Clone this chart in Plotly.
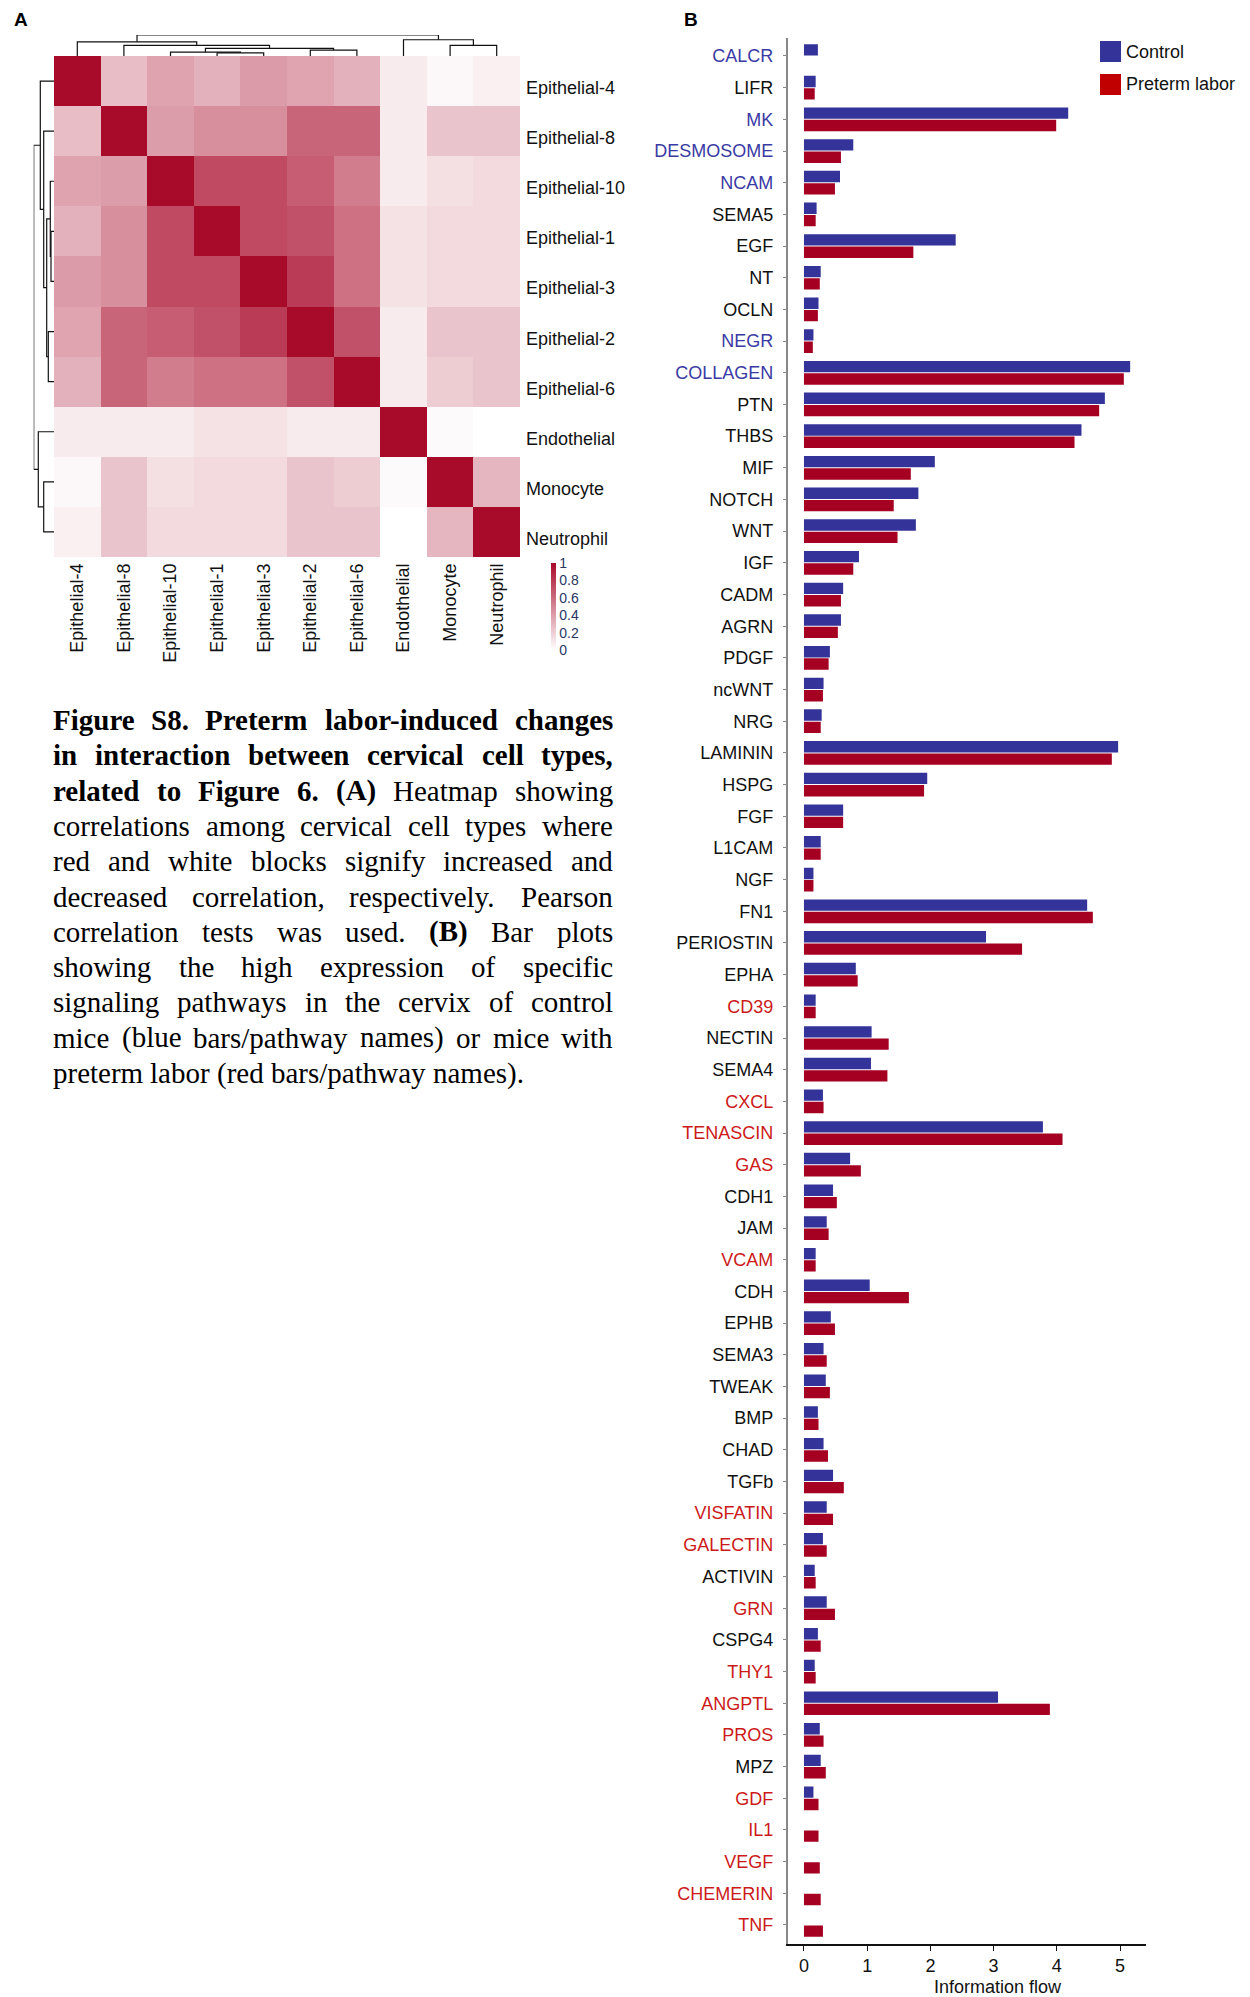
import plotly.graph_objects as go

W, H = 1250, 1997


def X(p):
    return p / W


def Y(p):
    return 1 - p / H


# ---------------- Panel A data ----------------
cells = ["Epithelial-4", "Epithelial-8", "Epithelial-10", "Epithelial-1", "Epithelial-3",
         "Epithelial-2", "Epithelial-6", "Endothelial", "Monocyte", "Neutrophil"]

corr_ep4 = [1.00, 0.27, 0.375, 0.32, 0.41, 0.37, 0.32, 0.08, 0.03, 0.06]
corr_ep8 = [0.27, 1.00, 0.40, 0.46, 0.46, 0.63, 0.63, 0.08, 0.24, 0.24]
corr_ep10 = [0.375, 0.40, 1.00, 0.74, 0.74, 0.66, 0.53, 0.08, 0.13, 0.15]
corr_ep1 = [0.32, 0.46, 0.74, 1.00, 0.74, 0.71, 0.58, 0.12, 0.15, 0.15]
corr_ep3 = [0.41, 0.46, 0.74, 0.74, 1.00, 0.80, 0.58, 0.12, 0.15, 0.15]
corr_ep2 = [0.37, 0.63, 0.66, 0.71, 0.80, 1.00, 0.71, 0.08, 0.24, 0.24]
corr_ep6 = [0.32, 0.63, 0.53, 0.58, 0.58, 0.71, 1.00, 0.08, 0.21, 0.24]
corr_endo = [0.08, 0.08, 0.08, 0.12, 0.12, 0.08, 0.08, 1.00, 0.02, 0.00]
corr_mono = [0.03, 0.24, 0.13, 0.15, 0.15, 0.24, 0.21, 0.02, 1.00, 0.30]
corr_neut = [0.06, 0.24, 0.15, 0.15, 0.15, 0.24, 0.24, 0.00, 0.30, 1.00]
corr = [corr_ep4, corr_ep8, corr_ep10, corr_ep1, corr_ep3,
        corr_ep2, corr_ep6, corr_endo, corr_mono, corr_neut]

# dendrogram merges: (node a, node b, height); new nodes numbered from 10
merges = [(3, 4, 3.0), (2, 10, 3.7), (5, 6, 5.7), (11, 12, 7.3), (1, 13, 10.3),
          (0, 14, 13.7), (8, 9, 10.3), (7, 16, 15.7), (15, 17, 20.3)]

# ---------------- Panel B data ----------------
pathways = ["CALCR", "LIFR", "MK", "DESMOSOME", "NCAM", "SEMA5", "EGF", "NT", "OCLN", "NEGR",
            "COLLAGEN", "PTN", "THBS", "MIF", "NOTCH", "WNT", "IGF", "CADM", "AGRN", "PDGF",
            "ncWNT", "NRG", "LAMININ", "HSPG", "FGF", "L1CAM", "NGF", "FN1", "PERIOSTIN", "EPHA",
            "CD39", "NECTIN", "SEMA4", "CXCL", "TENASCIN", "GAS", "CDH1", "JAM", "VCAM", "CDH",
            "EPHB", "SEMA3", "TWEAK", "BMP", "CHAD", "TGFb", "VISFATIN", "GALECTIN", "ACTIVIN", "GRN",
            "CSPG4", "THY1", "ANGPTL", "PROS", "MPZ", "GDF", "IL1", "VEGF", "CHEMERIN", "TNF"]

control = [0.22, 0.185, 4.18, 0.78, 0.57, 0.20, 2.40, 0.265, 0.23, 0.15,
           5.16, 4.76, 4.39, 2.07, 1.81, 1.77, 0.87, 0.62, 0.585, 0.41,
           0.31, 0.28, 4.97, 1.95, 0.62, 0.265, 0.15, 4.48, 2.88, 0.82,
           0.185, 1.07, 1.06, 0.30, 3.78, 0.73, 0.46, 0.36, 0.185, 1.04,
           0.425, 0.31, 0.345, 0.22, 0.31, 0.46, 0.36, 0.30, 0.17, 0.36,
           0.22, 0.17, 3.07, 0.25, 0.265, 0.15, None, None, None, None]

preterm = [None, 0.17, 3.99, 0.585, 0.49, 0.185, 1.73, 0.25, 0.22, 0.14,
           5.06, 4.67, 4.28, 1.69, 1.42, 1.48, 0.78, 0.585, 0.536, 0.39,
           0.30, 0.265, 4.87, 1.90, 0.62, 0.265, 0.15, 4.57, 3.45, 0.85,
           0.185, 1.34, 1.32, 0.31, 4.09, 0.90, 0.52, 0.39, 0.185, 1.66,
           0.49, 0.36, 0.41, 0.23, 0.38, 0.63, 0.46, 0.36, 0.185, 0.49,
           0.265, 0.185, 3.89, 0.31, 0.345, 0.23, 0.23, 0.25, 0.265, 0.30]

control_enriched = ["CALCR", "MK", "DESMOSOME", "NCAM", "NEGR", "COLLAGEN"]
preterm_enriched = ["CD39", "CXCL", "TENASCIN", "GAS", "VCAM", "VISFATIN", "GALECTIN", "GRN",
                    "THY1", "ANGPTL", "PROS", "GDF", "IL1", "VEGF", "CHEMERIN", "TNF"]

x_ticks = [0, 1, 2, 3, 4, 5]

caption_lines = [
    "*Figure *S8. *Preterm *labor-induced *changes",
    "*in *interaction *between *cervical *cell *types,",
    "*related *to *Figure *6. *(A) Heatmap showing",
    "correlations among cervical cell types where",
    "red and white blocks signify increased and",
    "decreased correlation, respectively. Pearson",
    "correlation tests was used. *(B) Bar plots",
    "showing the high expression of specific",
    "signaling pathways in the cervix of control",
    "mice (blue bars/pathway names) or mice with",
    "preterm labor (red bars/pathway names).",
]

# ---------------- styles ----------------
SANS = "Arial, Liberation Sans, sans-serif"
SERIF = "Liberation Serif, Times New Roman, serif"
BLUE_BAR = "#333399"
RED_BAR = "#A50021"
BLUE_TXT = "#3A3AA4"
RED_TXT = "#CC1A1A"

fig = go.Figure()

# heatmap
fig.add_trace(go.Heatmap(
    z=corr, x=list(range(len(cells))), y=list(range(len(cells))),
    colorscale=[[0, "#FFFFFF"], [1, "#A80A2A"]], zmin=0, zmax=1,
    xaxis="x", yaxis="y", hoverinfo="skip",
    colorbar=dict(thickness=5, thicknessmode="pixels", len=87, lenmode="pixels",
                  x=X(551), xanchor="left", y=Y(563), yanchor="top",
                  xpad=0, ypad=0, outlinewidth=0, ticks="",
                  tickvals=[0, 0.2, 0.4, 0.6, 0.8, 1],
                  ticktext=["0", "0.2", "0.4", "0.6", "0.8", "1"],
                  tickfont=dict(family=SANS, size=14, color="#2A3563"))
))

# dendrogram coordinates
pos = {i: float(i) for i in range(len(cells))}
hgt = {i: 0.0 for i in range(len(cells))}
dx, dy = [], []
for k, (a, b, h) in enumerate(merges):
    node = len(cells) + k
    dx += [pos[a], pos[a], pos[b], pos[b], None]
    dy += [hgt[a], h, h, hgt[b], None]
    pos[node] = (pos[a] + pos[b]) / 2
    hgt[node] = h

fig.add_trace(go.Scatter(x=dx, y=dy, mode="lines", line=dict(color="#111111", width=1.2),
                         xaxis="x3", yaxis="y3", cliponaxis=False, hoverinfo="skip",
                         showlegend=False))
fig.add_trace(go.Scatter(x=dy, y=dx, mode="lines", line=dict(color="#111111", width=1.2),
                         xaxis="x4", yaxis="y4", cliponaxis=False, hoverinfo="skip",
                         showlegend=False))

# bars
fig.add_trace(go.Bar(y=pathways, x=control, orientation="h", name="Control",
                     marker=dict(color=BLUE_BAR, line=dict(width=0)),
                     xaxis="x2", yaxis="y2", showlegend=False))
fig.add_trace(go.Bar(y=pathways, x=preterm, orientation="h", name="Preterm labor",
                     marker=dict(color=RED_BAR, line=dict(width=0)),
                     xaxis="x2", yaxis="y2", showlegend=False))


def label_color(p):
    if p in control_enriched:
        return BLUE_TXT
    if p in preterm_enriched:
        return RED_TXT
    return "#111111"


ticktext = [f"<span style='color:{label_color(p)}'>{p}</span>" for p in pathways]

hidden = dict(visible=False, showgrid=False, zeroline=False)

fig.update_layout(
    width=W, height=H, margin=dict(l=0, r=0, t=0, b=0),
    paper_bgcolor="white", plot_bgcolor="rgba(0,0,0,0)",
    font=dict(family=SANS, size=18, color="#111111"),
    barmode="group", bargap=0.22, bargroupgap=0.08,
    showlegend=False,
    xaxis=dict(domain=[X(54), X(520)], range=[-0.5, len(cells) - 0.5], anchor="y",
               tickvals=list(range(len(cells))), ticktext=cells, tickangle=-90,
               ticks="", showgrid=False, zeroline=False, showline=False,
               ticklabelstandoff=2, tickfont=dict(size=18, color="#111111")),
    yaxis=dict(domain=[Y(557), Y(56)], range=[len(cells) - 0.5, -0.5], anchor="x",
               showticklabels=False, ticks="", showgrid=False, zeroline=False),
    xaxis3=dict(domain=[X(54), X(520)], range=[-0.5, len(cells) - 0.5], anchor="y3", **hidden),
    yaxis3=dict(domain=[Y(56), Y(35)], range=[0, 20.3], anchor="x3", **hidden),
    xaxis4=dict(domain=[X(33.7), X(54)], range=[20.3, 0], anchor="y4", **hidden),
    yaxis4=dict(domain=[Y(557), Y(56)], range=[len(cells) - 0.5, -0.5], anchor="x4", **hidden),
    xaxis2=dict(domain=[X(787.6), X(1145.7)], range=[-0.259, 5.406], anchor="y2",
                tickvals=x_ticks, ticks="outside", ticklen=5, tickcolor="#111111",
                showline=True, linecolor="#111111", linewidth=1.5, showgrid=False,
                zeroline=False, tickfont=dict(size=18, color="#111111")),
    yaxis2=dict(domain=[Y(1944), Y(38)], type="category", categoryorder="array",
                categoryarray=pathways, range=[len(pathways) - 0.4, -0.568], anchor="x2",
                tickvals=pathways, ticktext=ticktext, ticks="outside", ticklen=3,
                tickcolor="#888888", showline=True, linecolor="#888888", linewidth=1.5,
                showgrid=False, zeroline=False, ticklabelstandoff=6,
                tickfont=dict(size=18, color="#111111")),
)

annotations = []
# row labels of heatmap
for i, c in enumerate(cells):
    annotations.append(dict(x=X(524), y=i, xref="paper", yref="y", text=c, showarrow=False,
                            xanchor="left", yanchor="middle", yshift=-7,
                            font=dict(family=SANS, size=18, color="#111111")))
# panel letters
annotations.append(dict(x=X(12), y=Y(19), xref="paper", yref="paper", text="<b>A</b>",
                        showarrow=False, xanchor="left", yanchor="middle",
                        font=dict(family=SANS, size=19, color="#000000")))
annotations.append(dict(x=X(682), y=Y(19), xref="paper", yref="paper", text="<b>B</b>",
                        showarrow=False, xanchor="left", yanchor="middle",
                        font=dict(family=SANS, size=19, color="#000000")))
# axis title
annotations.append(dict(x=X(998), y=Y(1987), xref="paper", yref="paper", text="Information flow",
                        showarrow=False, xanchor="center", yanchor="middle",
                        font=dict(family=SANS, size=18, color="#111111")))
# legend
shapes = []
legend_items = [("Control", BLUE_BAR, 41), ("Preterm labor", "#C00000", 74)]
for name, col, top in legend_items:
    shapes.append(dict(type="rect", xref="paper", yref="paper", x0=X(1100), x1=X(1121),
                       y0=Y(top + 21), y1=Y(top), fillcolor=col, line=dict(width=0)))
    annotations.append(dict(x=X(1124), y=Y(top + 10.5), xref="paper", yref="paper", text=name,
                            showarrow=False, xanchor="left", yanchor="middle",
                            font=dict(family=SANS, size=18, color="#111111")))

# caption with justified lines (Times metrics, per 1000 em)
TR = {' ': 250, '(': 333, ')': 333, ',': 250, '-': 333, '.': 250, '/': 278,
      'A': 722, 'B': 667, 'C': 667, 'D': 722, 'E': 611, 'F': 556, 'G': 722, 'H': 722, 'I': 333,
      'J': 389, 'K': 722, 'L': 611, 'M': 889, 'N': 722, 'O': 722, 'P': 556, 'Q': 722, 'R': 667,
      'S': 556, 'T': 611, 'U': 722, 'V': 722, 'W': 944, 'X': 722, 'Y': 722, 'Z': 611,
      'a': 444, 'b': 500, 'c': 444, 'd': 500, 'e': 444, 'f': 333, 'g': 500, 'h': 500, 'i': 278,
      'j': 278, 'k': 500, 'l': 278, 'm': 778, 'n': 500, 'o': 500, 'p': 500, 'q': 500, 'r': 333,
      's': 389, 't': 278, 'u': 500, 'v': 500, 'w': 722, 'x': 500, 'y': 500, 'z': 444}
TB = {' ': 250, '(': 333, ')': 333, ',': 250, '-': 333, '.': 250, '/': 278,
      'A': 722, 'B': 667, 'C': 722, 'D': 722, 'E': 667, 'F': 611, 'G': 778, 'H': 778, 'I': 389,
      'J': 500, 'K': 778, 'L': 667, 'M': 944, 'N': 722, 'O': 778, 'P': 611, 'Q': 778, 'R': 722,
      'S': 556, 'T': 667, 'U': 722, 'V': 722, 'W': 1000, 'X': 722, 'Y': 722, 'Z': 667,
      'a': 500, 'b': 556, 'c': 444, 'd': 556, 'e': 444, 'f': 333, 'g': 500, 'h': 556, 'i': 278,
      'j': 333, 'k': 556, 'l': 278, 'm': 833, 'n': 556, 'o': 500, 'p': 556, 'q': 556, 'r': 444,
      's': 389, 't': 333, 'u': 556, 'v': 500, 'w': 722, 'x': 500, 'y': 500, 'z': 444}

FS = 29
LEFT, RIGHT = 52, 612
for li, line in enumerate(caption_lines):
    words = []
    for w in line.split(" "):
        bold = w.startswith("*")
        w = w.lstrip("*")
        table = TB if bold else TR
        width = sum(table.get(ch, 500) for ch in w) * FS / 1000
        words.append((w, bold, width))
    total = sum(w[2] for w in words)
    last = li == len(caption_lines) - 1
    gap = 0.25 * FS if last else (RIGHT - LEFT - total) / (len(words) - 1)
    xpos = LEFT
    ycen = 720 + li * 35.3
    for w, bold, width in words:
        txt = f"<b>{w}</b>" if bold else w
        annotations.append(dict(x=X(xpos), y=Y(ycen), xref="paper", yref="paper", text=txt,
                                showarrow=False, xanchor="left", yanchor="middle", borderpad=0,
                                font=dict(family=SERIF, size=FS, color="#000000")))
        xpos += width + gap

fig.update_layout(annotations=annotations, shapes=shapes)

fig.write_html("out.html", config={"displayModeBar": False},
               post_script="document.body.style.margin='0';")
